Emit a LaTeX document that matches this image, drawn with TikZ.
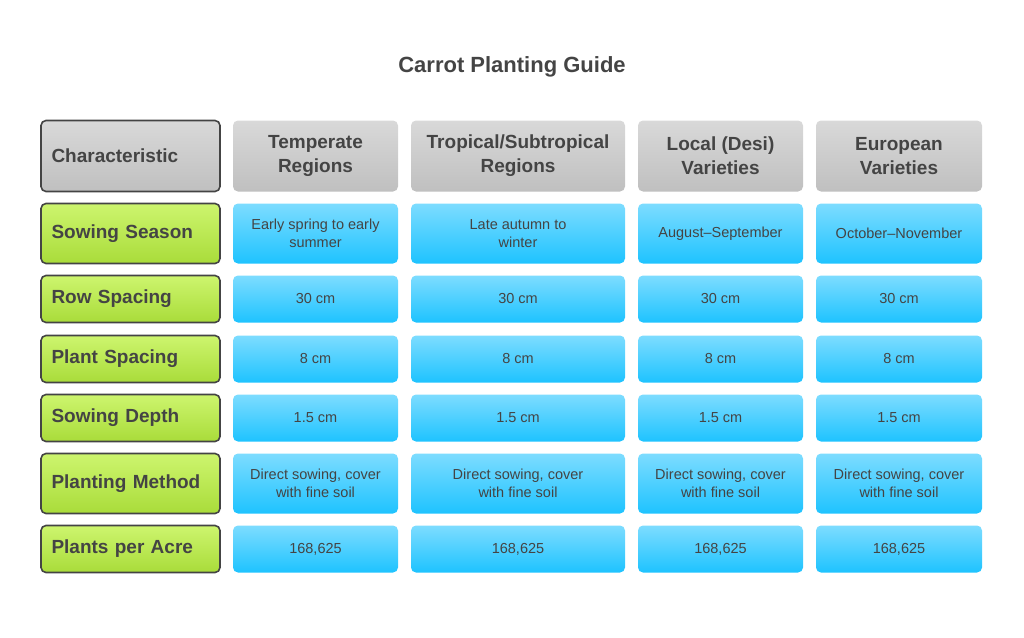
\documentclass[tikz,border=0pt]{standalone}
\usepackage{fontspec}
\setmainfont{Liberation Sans}
\definecolor{txt}{HTML}{444444}
\begin{document}
\begin{tikzpicture}[x=1pt,y=-1pt,
 base/.style={rounded corners=5pt,inner sep=0pt,text=txt,align=center},
 hdr/.style={base,top color=gray!30,bottom color=gray!50,font=\bfseries\fontsize{19}{24}\selectfont},
 lab/.style={base,draw=txt,line width=1.6pt,font=\bfseries\fontsize{19}{23}\selectfont,align=left},
 labg/.style={lab,top color={rgb,255:red,205;green,245;blue,110},bottom color={rgb,255:red,169;green,220;blue,58}},
 labh/.style={lab,top color=gray!30,bottom color=gray!50},
 cel/.style={base,top color={rgb,255:red,125;green,220;blue,255},bottom color={rgb,255:red,30;green,195;blue,255},font=\fontsize{14.5}{18}\selectfont}]
\useasboundingbox (0,0) rectangle (1024,637);
\node[font=\bfseries\fontsize{22}{26}\selectfont,text=txt] (title) at (512,67) {Carrot Planting Guide};
\newcommand\mycell[6]{% name, x1,x2,y1,y2,style+text
 \node[#6] (#1) at ({(#2+#3)/2},{(#4+#5)/2+1.5}) [minimum width={#3-#2},minimum height={#5-#4}]}
\mycell{h0}{41}{220}{119}{190}{labh,text width=158pt}{Characteristic};
\mycell{h1}{233}{398}{119}{190}{hdr}{Temperate\\Regions};
\mycell{h2}{411}{625}{119}{190}{hdr}{Tropical/Subtropical\\Regions};
\mycell{h3}{638}{803}{119}{190}{hdr}{Local (Desi)\\Varieties};
\mycell{h4}{816}{982}{119}{190}{hdr}{European\\Varieties};
\foreach \n/\ya/\yb/\l/\a/\b/\c/\d in {
 1/202/262/{Sowing Season}/{Early spring to early\\summer}/{Late autumn to\\winter}/{August–September}/{October–November},
 2/274/321/{Row Spacing}/{30 cm}/{30 cm}/{30 cm}/{30 cm},
 3/334/381/{Plant Spacing}/{8 cm}/{8 cm}/{8 cm}/{8 cm},
 4/393/440/{Sowing Depth}/{1.5 cm}/{1.5 cm}/{1.5 cm}/{1.5 cm},
 5/452/512/{Planting Method}/{Direct sowing, cover\\with fine soil}/{Direct sowing, cover\\with fine soil}/{Direct sowing, cover\\with fine soil}/{Direct sowing, cover\\with fine soil},
 6/524/571/{Plants per Acre}/{168,625}/{168,625}/{168,625}/{168,625}}{
 \mycell{r\n c0}{41}{220}{\ya}{\yb}{labg,text width=158pt}{\l};
 \mycell{r\n c1}{233}{398}{\ya}{\yb}{cel}{\a};
 \mycell{r\n c2}{411}{625}{\ya}{\yb}{cel}{\b};
 \mycell{r\n c3}{638}{803}{\ya}{\yb}{cel}{\c};
 \mycell{r\n c4}{816}{982}{\ya}{\yb}{cel}{\d};
}
\end{tikzpicture}
\end{document}
